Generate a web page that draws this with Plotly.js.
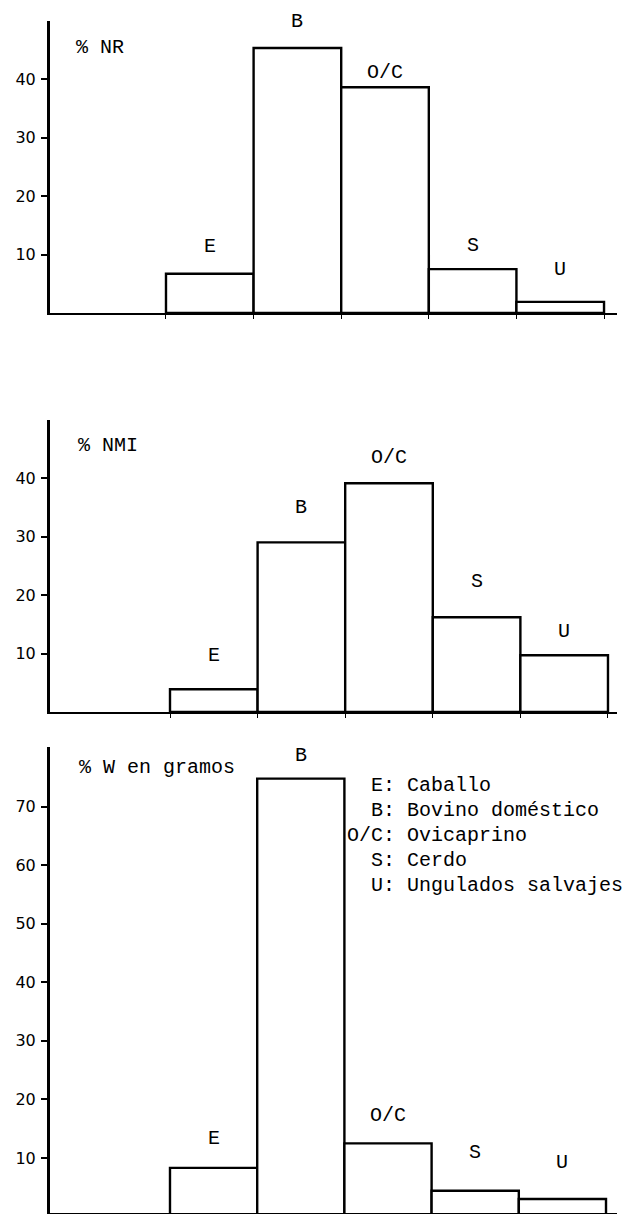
<!DOCTYPE html>
<html><head><meta charset="utf-8">
<script src="https://cdn.plot.ly/plotly-3.0.1.min.js"></script>
<style>html,body{margin:0;padding:0;background:#fff;overflow:hidden}#chart{width:634px;height:1214px}</style>
</head><body><div id="chart"></div>
<script>
// ---- data ----
const categories = ['E', 'B', 'O/C', 'S', 'U'];
const names = ['Caballo', 'Bovino doméstico', 'Ovicaprino', 'Cerdo', 'Ungulados salvajes'];
const nrValues = [6.7, 45.3, 38.6, 7.5, 1.9];
const nmiValues = [3.9, 29.0, 39.1, 16.2, 9.7];
const wValues = [8.3, 74.8, 12.5, 4.4, 3.0];
const panelTitles = ['% NR', '% NMI', '% W en gramos'];
const ticks12 = [10, 20, 30, 40];
const ticks3 = [10, 20, 30, 40, 50, 60, 70];

// ---- styling / layout ----
const H = 1214;
const mono = 'Courier New, Courier, Nimbus Mono PS, FreeMono, Liberation Mono, monospace';
const sans = 'DejaVu Sans, sans-serif';
const panels = [
  {values: nrValues, sfx: '', yDom: [1 - 313 / H, 1 - 20.5 / H], yRange: [0, 50], xRange: [-1.824, 4.648], ticks: ticks12,
   labelShift: [27, 26, 15, 24, 32], titleX: 74, titleY: 47},
  {values: nmiValues, sfx: '2', yDom: [1 - 712 / H, 1 - 419.5 / H], yRange: [0, 50], xRange: [-1.870, 4.603], ticks: ticks12,
   labelShift: [34, 35, 26, 36, 24], titleX: 76, titleY: 445},
  {values: wValues, sfx: '3', yDom: [1 - 1213 / H, 1 - 747 / H], yRange: [0.6, 80.2], xRange: [-1.876, 4.626], ticks: ticks3,
   labelShift: [29, 23, 28, 38, 36], titleX: 77, titleY: 767}
];
const L = 50, R = 17, PW = 634 - L - R;

const data = [];
const layout = {
  width: 634, height: H,
  margin: {l: L, r: R, t: 0, b: 0, pad: 0},
  paper_bgcolor: '#fff', plot_bgcolor: '#fff',
  showlegend: false, bargap: 0,
  font: {family: mono, color: '#000'},
  annotations: []
};

panels.forEach((p, k) => {
  data.push({
    type: 'bar', x: categories, y: p.values, width: 1,
    xaxis: 'x' + p.sfx, yaxis: 'y' + p.sfx,
    marker: {color: '#fff', line: {color: '#000', width: 2.4}},
    hoverinfo: 'skip'
  });
  layout['xaxis' + p.sfx] = {
    type: 'category', range: p.xRange, anchor: 'y' + p.sfx,
    showline: true, linecolor: '#000', linewidth: 2.2,
    ticks: 'outside', tickson: 'boundaries', ticklen: 4, tickwidth: 1, tickcolor: '#000',
    showticklabels: false, showgrid: false, zeroline: false, fixedrange: true
  };
  layout['yaxis' + p.sfx] = {
    domain: p.yDom, range: p.yRange, anchor: 'x' + p.sfx,
    showline: true, linecolor: '#000', linewidth: 3,
    ticks: 'outside', ticklen: 6, tickwidth: 2, tickcolor: '#000',
    tickmode: 'array', tickvals: p.ticks, ticklabelstandoff: 2,
    tickfont: {family: sans, size: 16, color: '#000'},
    showgrid: false, zeroline: false, fixedrange: true
  };
  categories.forEach((c, i) => {
    layout.annotations.push({
      xref: 'x' + p.sfx, yref: 'y' + p.sfx, x: c, y: p.values[i],
      text: c, showarrow: false, yanchor: 'middle', yshift: p.labelShift[i],
      font: {family: mono, size: 20, color: '#000'}
    });
  });
  layout.annotations.push({
    xref: 'paper', yref: 'paper', x: (p.titleX - L) / PW, y: 1 - p.titleY / H,
    xanchor: 'left', yanchor: 'middle', text: panelTitles[k], showarrow: false,
    font: {family: mono, size: 20, color: '#000'}
  });
});

// legend text (key list) in the third panel
const legendTop = 785, legendStep = 25, legendX = 345;
categories.forEach((c, i) => {
  const key = '\u00a0'.repeat(3 - c.length) + c;
  layout.annotations.push({
    xref: 'paper', yref: 'paper', x: (legendX - L) / PW, y: 1 - (legendTop + i * legendStep) / H,
    xanchor: 'left', yanchor: 'middle', text: key + ':\u00a0' + names[i], showarrow: false,
    font: {family: mono, size: 20, color: '#000'}
  });
});

Plotly.newPlot('chart', data, layout, {displayModeBar: false, staticPlot: true});
</script>
</body></html>
